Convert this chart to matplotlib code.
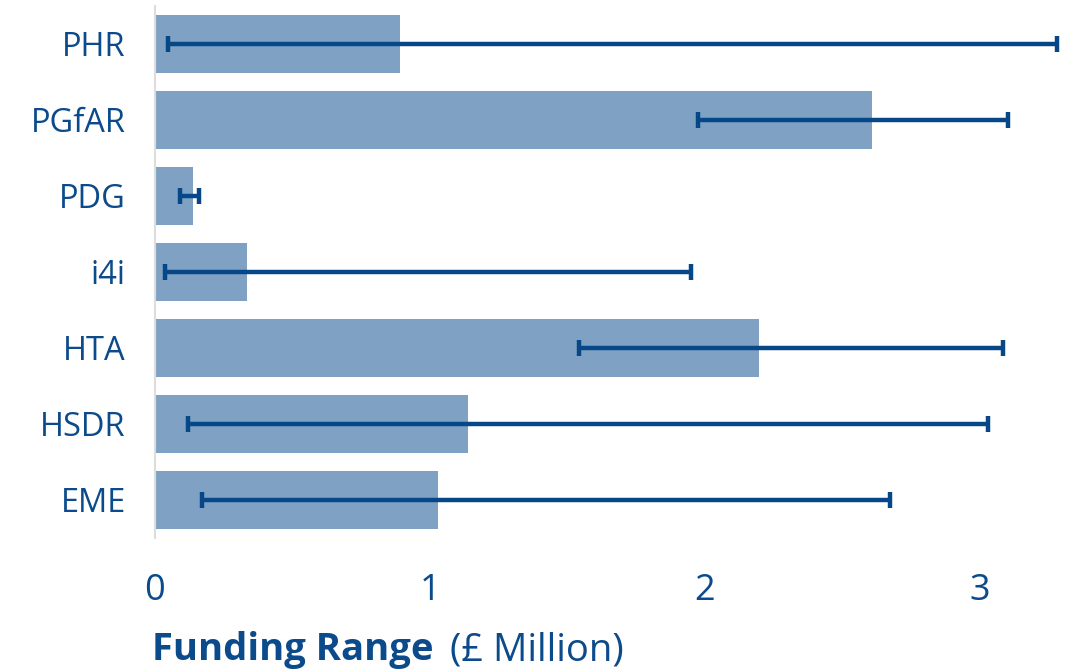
import matplotlib
matplotlib.use("Agg")
import matplotlib.pyplot as plt

categories = ["PHR", "PGfAR", "PDG", "i4i", "HTA", "HSDR", "EME"]
values = [0.891, 2.607, 0.138, 0.335, 2.196, 1.138, 1.029]
range_low = [0.047, 1.975, 0.091, 0.036, 1.542, 0.120, 0.171]
range_high = [3.280, 3.100, 0.160, 1.949, 3.084, 3.029, 2.673]
xticks = [0, 1, 2, 3]

FONT = ["Open Sans", "DejaVu Sans"]
plt.rcParams["font.family"] = FONT
TEXT = "#0b4a8b"
BAR = "#7fa2c4"
ERR = "#064887"

fig = plt.figure(figsize=(10.69, 6.69), dpi=100)
ax = fig.add_axes([155 / 1069, 1 - 538 / 669, (1062.5 - 155) / 1069, (538 - 6) / 669])

ypos = list(range(len(categories)))
ax.barh(ypos, values, height=0.76, color=BAR, edgecolor="none", zorder=2)
xerr = [[v - lo for v, lo in zip(values, range_low)],
        [hi - v for v, hi in zip(values, range_high)]]
ax.errorbar(values, ypos, xerr=xerr, fmt="none", ecolor=ERR, elinewidth=3.2,
            capsize=6, capthick=3.2, zorder=3)

ax.set_ylim(len(categories) - 0.5, -0.5)
ax.set_xlim(0, 3.3)
ax.set_yticks(ypos)
ax.set_yticklabels(categories)
ax.set_xticks(xticks)
ax.set_xticklabels([str(t) for t in xticks])
ax.tick_params(axis="y", length=0, pad=21, labelsize=23.5, labelcolor=TEXT)
ax.tick_params(axis="x", length=0, pad=25, labelsize=26, labelcolor=TEXT)
for s in ["top", "right", "bottom"]:
    ax.spines[s].set_visible(False)
ax.spines["left"].set_color("#dddddd")
ax.spines["left"].set_linewidth(1.5)

t1 = fig.text(152 / 1069, 1 - 650 / 669, "Funding Range", fontsize=27.5, fontweight="bold",
              color=TEXT, va="center", ha="left")
fig.canvas.draw()
bb = t1.get_window_extent(fig.canvas.get_renderer())
fig.text((bb.x1 + 16) / 1069, 1 - 650 / 669, "(£ Million)", fontsize=27.5,
         color=TEXT, va="center", ha="left")

fig.savefig("out.png", dpi=100)
